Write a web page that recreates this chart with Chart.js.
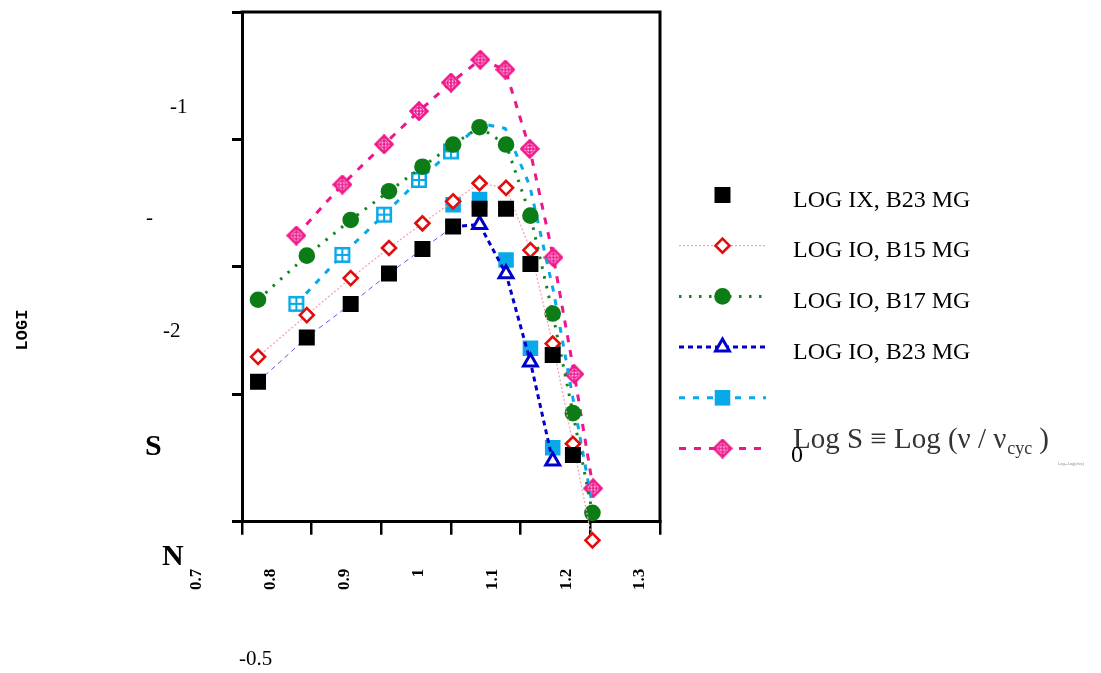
<!DOCTYPE html>
<html><head><meta charset="utf-8">
<script src="https://cdn.jsdelivr.net/npm/chart.js@4.4.1/dist/chart.umd.min.js"></script>
<style>html,body{margin:0;padding:0;background:#fff;overflow:hidden}#wrap{width:1101px;height:673px;position:relative}</style>
</head><body><div id="wrap"><canvas id="c" width="1101" height="673"></canvas></div>
<script>
// ---------- data ----------
const xTicks = [0.7, 0.8, 0.9, 1, 1.1, 1.2, 1.3];
const yTicks = [-2.5, -2, -1.5, -1, -0.5];
const xA = [0.723, 0.793, 0.856, 0.911, 0.959, 1.003, 1.041, 1.079, 1.114, 1.146, 1.175, 1.203];
const xB = [0.778, 0.844, 0.904, 0.954, 1.000, 1.042, 1.078, 1.113, 1.147, 1.177, 1.204];
const logIX_B23 = [-1.951, -1.777, -1.646, -1.526, -1.430, -1.342, -1.272, -1.272, -1.489, -1.846, -2.238];
const logIO_B15 = [-1.853, -1.689, -1.544, -1.426, -1.329, -1.243, -1.172, -1.190, -1.434, -1.801, -2.194, -2.573];
const logIO_B17 = [-1.629, -1.456, -1.316, -1.203, -1.107, -1.020, -0.952, -1.020, -1.299, -1.683, -2.074, -2.465];
const logIO_B23 = [-1.951, -1.777, -1.646, -1.526, -1.430, -1.342, -1.334, -1.527, -1.873, -2.262];
const cyanSquareX = [1.003, 1.041, 1.079, 1.114, 1.146];
const cyanSquares = [-1.256, -1.236, -1.473, -1.819, -2.210];
const cyanLine = [-1.645, -1.453, -1.295, -1.159, -1.047, -0.937, -0.957, -1.181, -1.594, -2.045, -2.450];
const logS = [-1.377, -1.177, -1.019, -0.889, -0.777, -0.687, -0.726, -1.037, -1.463, -1.921, -2.369];
const legendLabels = ['LOG IX, B23 MG', 'LOG IO, B15 MG', 'LOG IO, B17 MG', 'LOG IO, B23 MG', '', ''];

const pts = (xs, ys) => ys.map((y, i) => ({x: xs[i], y}));

// ---------- custom marker images ----------
function gridSquare(color) {
  const c = document.createElement('canvas'); c.width = c.height = 18;
  const g = c.getContext('2d');
  g.fillStyle = '#fff'; g.fillRect(2, 2, 14, 14);
  g.strokeStyle = color; g.lineWidth = 2.5; g.strokeRect(2.25, 2.25, 13.5, 13.5);
  g.lineWidth = 2; g.beginPath(); g.moveTo(9, 2); g.lineTo(9, 16); g.moveTo(2, 9); g.lineTo(16, 9); g.stroke();
  return c;
}
function crossDiamond(color) {
  const c = document.createElement('canvas'); c.width = c.height = 20;
  const g = c.getContext('2d');
  g.beginPath(); g.moveTo(10, 1.5); g.lineTo(18.5, 10); g.lineTo(10, 18.5); g.lineTo(1.5, 10); g.closePath();
  g.fillStyle = '#fff'; g.fill(); g.strokeStyle = color; g.lineWidth = 2.6; g.stroke();
  g.lineWidth = 1.6; g.beginPath(); g.arc(10, 10, 3.6, 0, Math.PI * 2); g.stroke();
  g.beginPath(); g.moveTo(10, 3); g.lineTo(10, 17); g.moveTo(3, 10); g.lineTo(17, 10); g.stroke();
  return c;
}
const CYAN = '#07a9e8', PINK = '#ef168b';
const gridSq = gridSquare(CYAN);
const crossDia = crossDiamond(PINK);

// ---------- plugins ----------
const framePlugin = {
  id: 'frame',
  beforeDatasetsDraw(chart) {
    const {ctx, chartArea: a} = chart;
    ctx.save(); ctx.strokeStyle = '#000'; ctx.lineWidth = 3; ctx.lineCap = 'square';
    ctx.beginPath(); ctx.moveTo(a.left, a.top); ctx.lineTo(a.right, a.top); ctx.lineTo(a.right, a.bottom); ctx.stroke();
    ctx.restore();
  }
};

const legendRows = [{line: null, mark: 0}, {line: 1, mark: 1}, {line: 2, mark: 2}, {line: 3, mark: 3}, {line: 5, mark: 4}, {line: 6, mark: 6}];
const sideLegend = {
  id: 'sideLegend',
  afterDraw(chart) {
    const ctx = chart.ctx, ds = chart.data.datasets;
    legendRows.forEach((row, r) => {
      const y = 195 + r * 50.7;
      ctx.save();
      if (row.line !== null) {
        const d = ds[row.line];
        ctx.strokeStyle = d.borderColor; ctx.lineWidth = d.borderWidth; ctx.setLineDash(d.borderDash || []);
        ctx.beginPath(); ctx.moveTo(679, y); ctx.lineTo(766, y); ctx.stroke();
      }
      ctx.setLineDash([]);
      const m = ds[row.mark];
      const style = m.legendStyle || m.pointStyle;
      ctx.fillStyle = m.pointBackgroundColor; ctx.strokeStyle = m.pointBorderColor;
      ctx.lineWidth = m.pointBorderWidth;
      Chart.helpers.drawPoint(ctx, {pointStyle: style, rotation: 0, radius: m.legendRadius, borderWidth: m.pointBorderWidth}, 722.5, y);
      ctx.restore();
      if (legendLabels[r]) {
        ctx.save(); ctx.fillStyle = '#000'; ctx.font = '24px "Liberation Serif"'; ctx.textBaseline = 'alphabetic';
        ctx.fillText(legendLabels[r], 793, y + 11.7); ctx.restore();
      }
    });
    // formula label of the last row
    ctx.save();
    ctx.fillStyle = '#333'; ctx.textBaseline = 'alphabetic';
    let x = 793; const base = 448;
    ctx.font = '29px "Liberation Serif"';
    const p1 = 'Log S \u2261 Log (\u03BD / \u03BD';
    ctx.fillText(p1, x, base); x += ctx.measureText(p1).width + 1;
    ctx.font = '18px "Liberation Serif"'; ctx.fillText('cyc', x, base + 6); x += ctx.measureText('cyc').width + 7;
    ctx.font = '29px "Liberation Serif"'; ctx.fillText(')', x, base);
    ctx.fillStyle = '#000'; ctx.font = '24px "Liberation Serif"'; ctx.fillText('0', 791, 462);
    ctx.fillStyle = '#888'; ctx.font = '4px "Liberation Sans"'; ctx.fillText('Log\u2081\u2080Log(\u03BD/\u03BDc)', 1058, 465);
    ctx.restore();
  }
};

const looseText = {
  id: 'looseText',
  afterDraw(chart) {
    const ctx = chart.ctx;
    ctx.save(); ctx.fillStyle = '#000'; ctx.textBaseline = 'alphabetic'; ctx.textAlign = 'left';
    ctx.font = '21px "Liberation Serif"';
    ctx.fillText('-1', 170, 113);
    ctx.fillText('-', 146, 224);
    ctx.fillText('-2', 163, 337);
    ctx.fillText('-0.5', 239, 665);
    ctx.font = 'bold 30px "Liberation Serif"';
    ctx.fillText('S', 145, 455);
    ctx.fillText('N', 162, 565);
    ctx.translate(22.5, 330); ctx.rotate(-Math.PI / 2);
    ctx.font = 'bold 17px "Liberation Mono"'; ctx.textAlign = 'center'; ctx.textBaseline = 'middle';
    ctx.fillText('LOGI', 0, 0);
    ctx.restore();
  }
};

// ---------- chart ----------
new Chart(document.getElementById('c'), {
  type: 'line',
  data: {
    datasets: [
      {label: legendLabels[0], data: pts(xA, logIX_B23), showLine: false, pointStyle: 'rect', pointRadius: 11.3, legendRadius: 11.3,
       pointBackgroundColor: '#000', pointBorderColor: '#000', pointBorderWidth: 0, xAxisID: 'x', yAxisID: 'y'},
      {label: legendLabels[1], data: pts(xA, logIO_B15), borderColor: '#f4a4ae', borderWidth: 1.3, borderDash: [2, 2],
       pointStyle: 'rectRot', pointRadius: 7, pointHoverRadius: 22, legendRadius: 7, pointBackgroundColor: '#fff', pointBorderColor: '#e30b0b', pointBorderWidth: 2.6,
       clip: false, xAxisID: 'x', yAxisID: 'y'},
      {label: legendLabels[2], data: pts(xA, logIO_B17), borderColor: '#13861f', borderWidth: 3, borderDash: [2.5, 7.5],
       pointStyle: 'circle', pointRadius: 8.3, legendRadius: 8.3, pointBackgroundColor: '#0c7c17', pointBorderColor: '#0c7c17', pointBorderWidth: 0,
       clip: false, xAxisID: 'x', yAxisID: 'y'},
      {label: legendLabels[3], data: pts(xA, logIO_B23), borderColor: '#0000cc', borderWidth: 3, borderDash: [5, 4],
       segment: {borderWidth: c => c.p0DataIndex < 5 ? 1 : 3, borderColor: c => c.p0DataIndex < 5 ? '#5a5af0' : '#0000cc'},
       pointStyle: 'triangle', pointRadius: [0, 0, 0, 0, 0, 0, 8, 8, 8, 8], legendRadius: 8,
       pointBackgroundColor: '#fff', pointBorderColor: '#0000cc', pointBorderWidth: 3, xAxisID: 'x', yAxisID: 'y'},
      {label: legendLabels[4], data: pts(cyanSquareX, cyanSquares), showLine: false, pointStyle: 'rect', pointRadius: 11, legendRadius: 11,
       pointBackgroundColor: CYAN, pointBorderColor: CYAN, pointBorderWidth: 0, xAxisID: 'x', yAxisID: 'y'},
      {label: 'cyan', data: pts(xB, cyanLine), borderColor: CYAN, borderWidth: 3, borderDash: [6, 8],
       pointStyle: gridSq, pointRadius: [8, 8, 8, 8, 8, 0, 0, 0, 0, 0, 0], legendRadius: 8,
       pointBackgroundColor: '#fff', pointBorderColor: CYAN, pointBorderWidth: 0, xAxisID: 'x', yAxisID: 'y'},
      {label: legendLabels[5], data: pts(xB, logS), borderColor: PINK, borderWidth: 3, borderDash: [7, 8],
       pointStyle: crossDia, pointRadius: 8, legendRadius: 8, pointBackgroundColor: '#fff', pointBorderColor: PINK, pointBorderWidth: 0,
       xAxisID: 'x', yAxisID: 'y'}
    ]
  },
  options: {
    responsive: false, animation: false, devicePixelRatio: 1,
    events: [],
    layout: {autoPadding: false, padding: {left: 232, right: 441, top: 12, bottom: 49}},
    plugins: {legend: {display: false}, tooltip: {enabled: false}},
    scales: {
      x: {type: 'linear', position: 'bottom', weight: 0, min: 0.7, max: 1.3,
          afterBuildTicks: s => { s.ticks = xTicks.map(v => ({value: v})); },
          ticks: {display: false},
          grid: {drawOnChartArea: false, drawTicks: true, tickLength: 13, lineWidth: 2.5, color: '#000'},
          border: {display: true, width: 3, color: '#000'}},
      x2: {type: 'linear', position: 'bottom', weight: 1, min: 0.761, max: 1.327,
          afterBuildTicks: s => { s.ticks = xTicks.map(v => ({value: v})); },
          ticks: {autoSkip: false, minRotation: 90, maxRotation: 90, padding: 34, color: '#000',
                  font: {family: 'Liberation Serif', size: 17, weight: 'bold'}, callback: v => String(v)},
          grid: {display: false, drawTicks: false}, border: {display: false}},
      y: {type: 'linear', position: 'left', min: -2.5, max: -0.5,
          afterBuildTicks: s => { s.ticks = yTicks.map(v => ({value: v})); },
          ticks: {display: false},
          grid: {drawOnChartArea: false, drawTicks: true, tickLength: 10, lineWidth: 3, color: '#000'},
          border: {display: true, width: 3, color: '#000'}}
    }
  },
  plugins: [framePlugin, sideLegend, looseText]
});
</script>
</body></html>
